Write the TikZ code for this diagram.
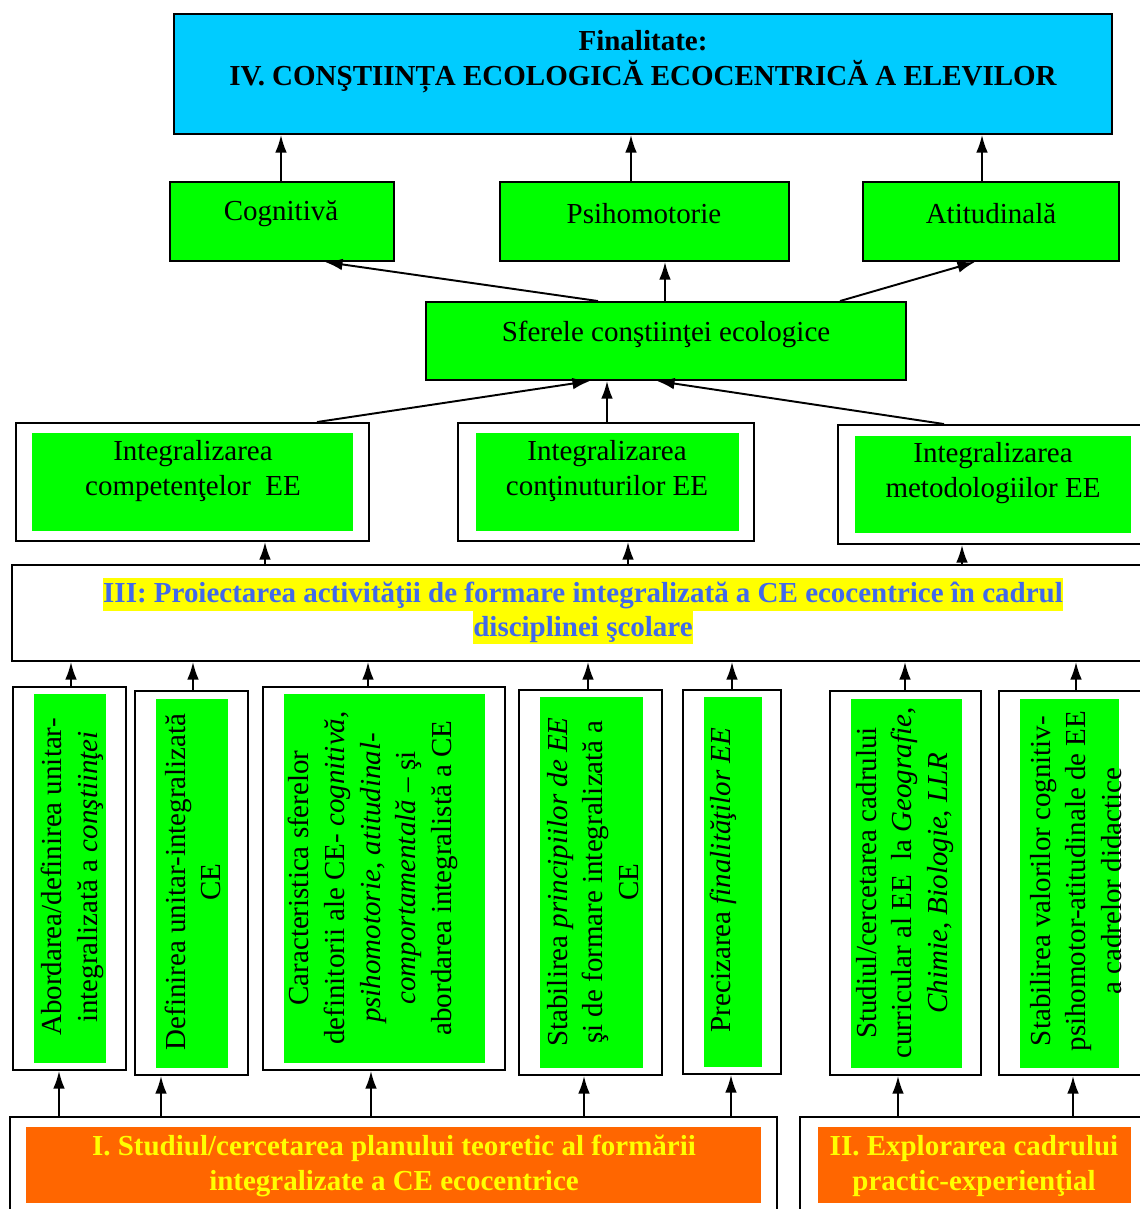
\documentclass[tikz,border=0pt]{standalone}
\usepackage{fontspec}
\setmainfont{Liberation Serif}
\usetikzlibrary{arrows,arrows.meta,fit}

\definecolor{gruen}{RGB}{0,255,0}
\definecolor{himmel}{RGB}{0,204,255}
\definecolor{orangeCE}{RGB}{255,102,0}
\definecolor{blauIII}{RGB}{65,105,235}
\definecolor{gelb}{RGB}{255,255,0}

\begin{document}
\begin{tikzpicture}[>={Latex[length=10pt,width=6.6pt]},line width=1.1pt,x=0.02cm,y=-0.02cm,
	box/.style={draw,line width=1.1pt,inner sep=0pt},
	gruenbox/.style={box,fill=gruen,draw=none},
	rahmen/.style={box,fill=white},
	txt/.style={font=\fontsize{16.5}{19.8}\selectfont,align=center,inner sep=0pt},
	vtxt/.style={txt,rotate=90,font=\fontsize{16.5}{20.4}\selectfont}]

\useasboundingbox[fill=white] (0,0) rectangle (1139,1209);

\def\gelbzeile#1{{\fboxsep=0pt\colorbox{gelb}{\rule[-4.6pt]{0pt}{18.8pt}#1}}}

% Finalitate
\node[box,fill=himmel,fit={(174,14) (1112,134)}] (ziel) {};
\node[txt,font=\fontsize{16.5}{19.8}\selectfont\bfseries] (zielT) at (643,62)
	{Finalitate:\\IV. CONŞTIINȚA ECOLOGICĂ ECOCENTRICĂ A ELEVILOR};

% sferele
\node[box,fill=gruen,fit={(170,182) (394,261)}] (cog) {};
\node[box,fill=gruen,fit={(500,182) (789,261)}] (psi) {};
\node[box,fill=gruen,fit={(863,182) (1119,261)}] (ati) {};
\node[txt] (cogT) at (281,214) {Cognitivă};
\node[txt] (psiT) at (644,214) {Psihomotorie};
\node[txt] (atiT) at (991,214) {Atitudinală};

\node[box,fill=gruen,fit={(426,302) (906,380)}] (sf) {};
\node[txt] (sfT) at (666,334) {Sferele conştiinţei ecologice};

% integralizarea
\node[rahmen,fit={(16,423) (369,541)}] (comp) {};
\node[gruenbox,fit={(32,433) (353,531)}] (compG) {};
\node[rahmen,fit={(458,423) (754,541)}] (cont) {};
\node[gruenbox,fit={(476,433) (739,531)}] (contG) {};
\node[rahmen,fit={(838,425) (1145,544)}] (met) {};
\node[gruenbox,fit={(855,436) (1131,533)}] (metG) {};
\node[txt] (compT) at (193,471) {Integralizarea\\competenţelor\ \ EE};
\node[txt] (contT) at (607,471) {Integralizarea\\conţinuturilor EE};
\node[txt] (metT) at (993,473) {Integralizarea\\metodologiilor EE};

% III
\node[rahmen,fit={(12,565) (1145,661)}] (proi) {};
\node[txt,font=\fontsize{16.5}{19.8}\selectfont\bfseries,text=blauIII] (proiT) at (583,611)
	{\gelbzeile{III: Proiectarea activităţii de formare integralizată a CE ecocentrice în cadrul}\\[-0.6pt]
	 \gelbzeile{disciplinei şcolare}};

% vertical boxes
\node[rahmen,fit={(13,687) (126,1070)}] (v1) {};
\node[gruenbox,fit={(34,694) (106,1063)}] (v1G) {};
\node[rahmen,fit={(135,691) (248,1075)}] (v2) {};
\node[gruenbox,fit={(156,699) (228,1068)}] (v2G) {};
\node[rahmen,fit={(263,687) (505,1070)}] (v3) {};
\node[gruenbox,fit={(284,694) (485,1063)}] (v3G) {};
\node[rahmen,fit={(519,690) (662,1075)}] (v4) {};
\node[gruenbox,fit={(540,697) (643,1068)}] (v4G) {};
\node[rahmen,fit={(683,690) (781,1074)}] (v5) {};
\node[gruenbox,fit={(704,697) (762,1067)}] (v5G) {};
\node[rahmen,fit={(830,691) (981,1075)}] (v6) {};
\node[gruenbox,fit={(851,699) (962,1068)}] (v6G) {};
\node[rahmen,fit={(999,691) (1145,1075)}] (v7) {};
\node[gruenbox,fit={(1020,699) (1119,1068)}] (v7G) {};

\node[vtxt] (v1T) at (72,877) {Abordarea/definirea unitar-\\integralizată a \textit{conştiinţei}};
\node[vtxt] (v2T) at (193,882) {Definirea unitar-integralizată\\CE};
\node[vtxt] (v3T) at (373,878) {Caracteristica sferelor\\definitorii ale CE- \textit{cognitivă},\\
	\textit{psihomotorie}, \textit{atitudinal-}\\\textit{comportamentală} – şi\\abordarea integralistă a CE};
\node[vtxt] (v4T) at (593,882) {Stabilirea \textit{principiilor de EE}\\şi de formare integralizată a\\CE};
\node[vtxt] (v5T) at (723,880) {Precizarea \textit{finalităţilor EE}};
\node[vtxt] (v6T) at (905,883) {Studiul/cercetarea cadrului\\curricular al EE\ \ la \textit{Geografie},\\
	\textit{Chimie}, \textit{Biologie}, \textit{LLR}};
\node[vtxt] (v7T) at (1076,881) {Stabilirea valorilor cognitiv-\\psihomotor-atitudinale de EE\\a cadrelor didactice};

% I si II
\node[rahmen,fit={(10,1117) (777,1215)}] (teor) {};
\node[box,fill=orangeCE,draw=none,fit={(26,1127) (761,1203)}] (teorG) {};
\node[rahmen,fit={(800,1117) (1145,1215)}] (prac) {};
\node[box,fill=orangeCE,draw=none,fit={(818,1127) (1131,1203)}] (pracG) {};
\node[txt,font=\fontsize{16.5}{19.8}\selectfont\bfseries,text=gelb] (teorT) at (394,1166)
	{I. Studiul/cercetarea planului teoretic al formării\\integralizate a CE ecocentrice};
\node[txt,font=\fontsize{16.5}{19.8}\selectfont\bfseries,text=gelb] (pracT) at (974,1166)
	{II. Explorarea cadrului\\practic-experienţial};

% sageti sus
\draw[->] (cog.north -| 281,0) -- (ziel.south -| 281,0);
\draw[->] (psi.north -| 631,0) -- (ziel.south -| 631,0);
\draw[->] (ati.north -| 982,0) -- (ziel.south -| 982,0);

\draw[->] (sf.north -| 598,0) -- (cog.south -| 325,0);
\draw[->] (sf.north -| 665,0) -- (psi.south -| 665,0);
\draw[->] (sf.north -| 840,0) -- (ati.south -| 975,0);

\draw[->] (comp.north -| 317,0) -- (sf.south -| 590,0);
\draw[->] (cont.north -| 607,0) -- (sf.south -| 607,0);
\draw[->] (met.north -| 944,0) -- (sf.south -| 657,0);

\draw[->] (proi.north -| 265,0) -- (comp.south -| 265,0);
\draw[->] (proi.north -| 628,0) -- (cont.south -| 628,0);
\draw[->] (proi.north -| 962,0) -- (met.south -| 962,0);

\draw[->] (v1.north -| 71,0) -- (proi.south -| 71,0);
\draw[->] (v2.north -| 193,0) -- (proi.south -| 193,0);
\draw[->] (v3.north -| 368,0) -- (proi.south -| 368,0);
\draw[->] (v4.north -| 588,0) -- (proi.south -| 588,0);
\draw[->] (v5.north -| 732,0) -- (proi.south -| 732,0);
\draw[->] (v6.north -| 905,0) -- (proi.south -| 905,0);
\draw[->] (v7.north -| 1076,0) -- (proi.south -| 1076,0);

% sageti jos
\draw[->] (teor.north -| 59,0) -- (v1.south -| 59,0);
\draw[->] (teor.north -| 161,0) -- (v2.south -| 161,0);
\draw[->] (teor.north -| 371,0) -- (v3.south -| 371,0);
\draw[->] (teor.north -| 584,0) -- (v4.south -| 584,0);
\draw[->] (teor.north -| 731,0) -- (v5.south -| 731,0);
\draw[->] (prac.north -| 898,0) -- (v6.south -| 898,0);
\draw[->] (prac.north -| 1073,0) -- (v7.south -| 1073,0);

\end{tikzpicture}
\end{document}
